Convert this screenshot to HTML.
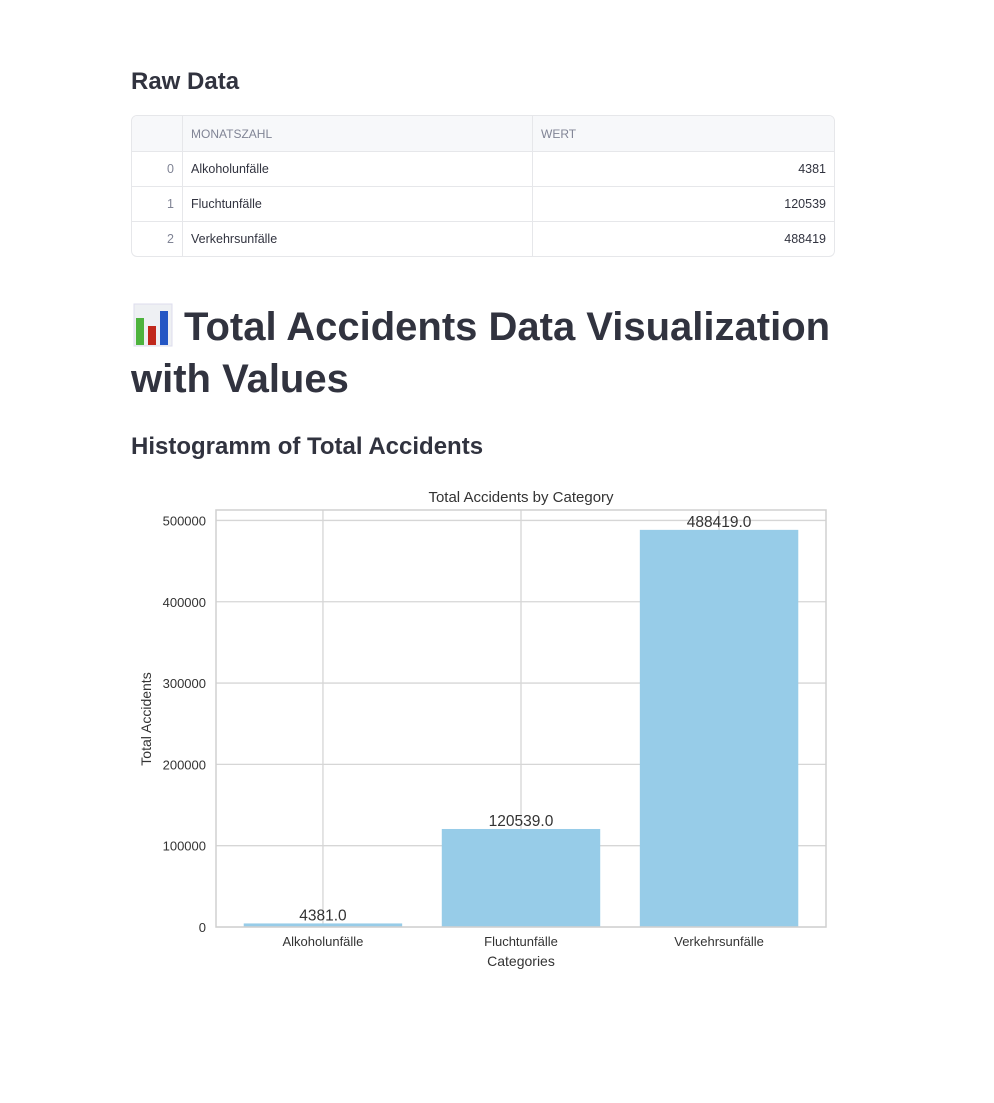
<!DOCTYPE html>
<html><head><meta charset="utf-8">
<style>
body{margin:0;background:#fff;width:994px;height:1103px;position:relative;font-family:"Liberation Sans",sans-serif;color:#31333f;overflow:hidden}
.h{position:absolute;left:131px;margin:0;font-weight:700;color:#31333f;white-space:nowrap}
table{position:absolute;left:131px;top:115px;width:704px;border-collapse:separate;border-spacing:0;border:1px solid #e6e7ea;border-radius:6px;font-size:12.5px;overflow:hidden}
td,th{height:34px;border-bottom:1px solid #e6e7ea;border-right:1px solid #e6e7ea;padding:0 8px;font-weight:400}
th{background:#f7f8fa;color:#808495;text-align:left;font-size:12px;height:35px}
tr:last-child td{border-bottom:none}
td:last-child,th:last-child{border-right:none}
.idx{color:#808495;text-align:right;width:34px}
.num{text-align:right}
</style></head><body>
<h3 class="h" style="top:68px;font-size:24px">Raw Data</h3>
<table>
<tr><th></th><th style="width:333px">MONATSZAHL</th><th>WERT</th></tr>
<tr><td class="idx">0</td><td>Alkoholunfälle</td><td class="num">4381</td></tr>
<tr><td class="idx">1</td><td>Fluchtunfälle</td><td class="num">120539</td></tr>
<tr><td class="idx">2</td><td>Verkehrsunfälle</td><td class="num">488419</td></tr>
</table>
<svg style="position:absolute;left:133px;top:303px" width="40" height="44" viewBox="0 0 40 44">
<rect x="1" y="1" width="38" height="42" fill="#eef0f3" stroke="#dde" />
<rect x="3" y="15" width="8" height="27" fill="#4db33d"/>
<rect x="15" y="23" width="8" height="19" fill="#c0281c"/>
<rect x="27" y="8" width="8" height="34" fill="#2456c4"/>
</svg>
<h1 class="h" style="top:302px;left:184px;font-size:40px;line-height:50px">Total Accidents Data Visualization</h1>
<h1 class="h" style="top:354px;font-size:40px;line-height:50px">with Values</h1>
<h3 class="h" style="top:433px;font-size:24px">Histogramm of Total Accidents</h3>
<svg id="chart" style="position:absolute;left:0;top:0" width="994" height="1103" font-family="Liberation Sans, Arial, sans-serif"></svg>
<script>
const categories=["Alkoholunfälle","Fluchtunfälle","Verkehrsunfälle"];
const values=[4381,120539,488419];
const yTicks=[0,100000,200000,300000,400000,500000];
const svg=document.getElementById('chart');
const NS='http://www.w3.org/2000/svg';
const L=216,R=826,T=510,B=927;
const xmin=-0.54,xmax=categories.length-1+0.54;
const ymax=Math.max(...values)*1.05;
const x=v=>L+(v-xmin)/(xmax-xmin)*(R-L);
const y=v=>B-v/ymax*(B-T);
function el(t,a,txt){const e=document.createElementNS(NS,t);for(const k in a)e.setAttribute(k,a[k]);if(txt!=null)e.textContent=txt;svg.appendChild(e);return e;}
yTicks.forEach(t=>{
 const g=el('line',{x1:L,x2:R,y1:y(t),y2:y(t),stroke:'#d6d6d6','stroke-width':1.3});
 
 
 const l=el('text',{x:L-10,y:y(t)+5,'text-anchor':'end','font-size':13,fill:'#333'},String(t));
 
 
});
categories.forEach((c,i)=>{
 const g=el('line',{x1:x(i),x2:x(i),y1:T,y2:B,stroke:'#d6d6d6','stroke-width':1.3});
 
 
});
categories.forEach((c,i)=>{
 const w=x(0.4)-x(0);
 const b=el('rect',{x:x(i)-w,y:y(values[i]),width:2*w,height:B-y(values[i]),fill:'#97cce8'});
 
 
 const v=el('text',{x:x(i),y:y(values[i])-3,'text-anchor':'middle','font-size':15.5,fill:'#333'},values[i].toFixed(1));
 
 
 const l=el('text',{x:x(i),y:B+19,'text-anchor':'middle','font-size':13,fill:'#333'},c);
 
 
});
const fr=el('rect',{x:L,y:T,width:R-L,height:B-T,fill:'none',stroke:'#d0d0d0','stroke-width':1.5});


const tt=el('text',{x:(L+R)/2,y:502,'text-anchor':'middle','font-size':15,fill:'#333'},'Total Accidents by Category');


const xt=el('text',{x:(L+R)/2,y:966,'text-anchor':'middle','font-size':14,fill:'#333'},'Categories');


const yt=el('text',{x:0,y:0,'text-anchor':'middle','font-size':14,fill:'#333',transform:'translate(151,719) rotate(-90)'},'Total Accidents');


</script>
</body></html>
